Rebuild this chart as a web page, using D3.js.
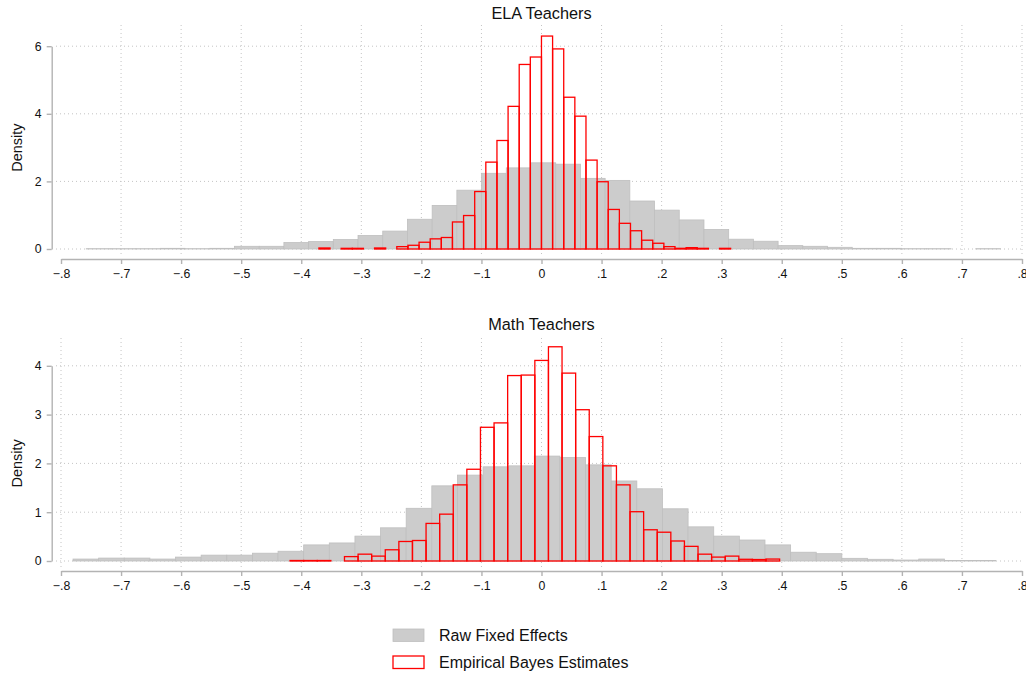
<!DOCTYPE html>
<html>
<head>
<meta charset="utf-8">
<script src="https://cdn.jsdelivr.net/npm/d3@7"></script>
<style>
  html, body { margin: 0; padding: 0; background: #fff; }
  svg { display: block; font-family: "Liberation Sans", Arial, Helvetica, sans-serif; }
</style>
</head>
<body>
<svg id="chart" width="1026" height="675"></svg>
<script>
// Histogram densities: teacher value-added, raw fixed effects vs. empirical Bayes estimates

// ELA teachers
const elaRawStart = -0.758, elaRawWidth = 0.04114;
const elaRaw = [0.01, 0.01, 0.01, 0.02, 0.01, 0.02, 0.08, 0.08, 0.19, 0.22,
                0.28, 0.40, 0.53, 0.88, 1.29, 1.74, 2.24, 2.40, 2.55, 2.51,
                2.09, 2.03, 1.42, 1.15, 0.86, 0.58, 0.29, 0.23, 0.10, 0.08,
                0.05, 0.02, 0.02, 0.01, 0.01, 0, 0.01];
const elaEBStart = -0.3706, elaEBWidth = 0.018527;
const elaEB = [0.03, 0, 0.02, 0.02, 0, 0.03, 0, 0.07, 0.11, 0.20,
               0.30, 0.34, 0.80, 0.99, 1.70, 2.57, 3.21, 4.22, 5.46, 5.68,
               6.30, 5.92, 4.49, 3.93, 2.63, 1.99, 1.17, 0.76, 0.54, 0.26,
               0.17, 0.07, 0.02, 0.04, 0.02, 0, 0.02];

// Math teachers
const mathRawStart = -0.780, mathRawWidth = 0.04267;
const mathRaw = [0.04, 0.06, 0.06, 0.04, 0.08, 0.12, 0.12, 0.16, 0.20, 0.33,
                 0.37, 0.51, 0.68, 1.08, 1.54, 1.76, 1.93, 1.95, 2.15, 2.12,
                 1.97, 1.64, 1.48, 1.07, 0.70, 0.51, 0.43, 0.33, 0.18, 0.15,
                 0.055, 0.035, 0.02, 0.04, 0.01, 0.01];
const mathEBStart = -0.4186, mathEBWidth = 0.02264;
const mathEB = [0.01, 0.01, 0.01, 0, 0.09, 0.14, 0.10, 0.23, 0.40, 0.42,
                0.77, 0.96, 1.56, 1.88, 2.74, 2.83, 3.80, 3.81, 4.11, 4.39,
                3.85, 3.10, 2.55, 1.95, 1.56, 1.01, 0.64, 0.59, 0.41, 0.30,
                0.14, 0.08, 0.10, 0.035, 0.03, 0.04];

const xTicks = [-0.8, -0.7, -0.6, -0.5, -0.4, -0.3, -0.2, -0.1, 0, 0.1, 0.2, 0.3, 0.4, 0.5, 0.6, 0.7, 0.8];
const elaYTicks = [0, 2, 4, 6];
const mathYTicks = [0, 1, 2, 3, 4];
const legendLabels = ["Raw Fixed Effects", "Empirical Bayes Estimates"];

const svg = d3.select("#chart");
const rawFill = "#cccccc", rawStroke = "#bfbfbf", ebStroke = "#ff0000";
const axisColor = "#b3b3b3", gridColor = "#c4c4c4";

const x = d3.scaleLinear().domain([-0.8, 0.8]).range([61, 1022]);

// Stata-style tick labels: drop the leading zero
const fmtX = d => d === 0 ? "0" : d3.format(".1f")(d).replace("0.", ".");

function toBins(start, width, vals) {
  return vals.map((v, i) => ({ x0: start + i * width, x1: start + (i + 1) * width, v }));
}

function panel(opts) {
  const { title, titleY, plotTop, yRange, yDomain, yTicks, axisY, raw, eb, vGridSkip } = opts;
  const y = d3.scaleLinear().domain(yDomain).range(yRange);
  const g = svg.append("g");

  // grid
  g.append("g").selectAll("line").data(xTicks.filter(t => t !== vGridSkip)).join("line")
    .attr("x1", d => x(d)).attr("x2", d => x(d))
    .attr("y1", plotTop).attr("y2", y(0) + 6)
    .attr("stroke", gridColor).attr("stroke-width", 1).attr("stroke-dasharray", "1,3");
  g.append("g").selectAll("line").data(yTicks).join("line")
    .attr("x1", 56).attr("x2", 1022)
    .attr("y1", d => y(d)).attr("y2", d => y(d))
    .attr("stroke", gridColor).attr("stroke-width", 1).attr("stroke-dasharray", "1,3");

  // raw fixed effects (filled)
  g.append("g").selectAll("rect").data(raw.filter(b => b.v > 0)).join("rect")
    .attr("x", d => x(d.x0)).attr("width", d => x(d.x1) - x(d.x0))
    .attr("y", d => y(d.v)).attr("height", d => y(0) - y(d.v))
    .attr("fill", rawFill).attr("stroke", rawStroke).attr("stroke-width", 0.8);

  // empirical Bayes estimates (outlined)
  g.append("g").selectAll("rect").data(eb.filter(b => b.v > 0)).join("rect")
    .attr("x", d => x(d.x0)).attr("width", d => x(d.x1) - x(d.x0))
    .attr("y", d => y(d.v)).attr("height", d => y(0) - y(d.v))
    .attr("fill", "none").attr("stroke", ebStroke).attr("stroke-width", 1.3);

  // x axis
  const xa = g.append("g").attr("transform", `translate(0,${axisY})`)
    .call(d3.axisBottom(x).tickValues(xTicks).tickFormat(fmtX).tickSize(5).tickSizeOuter(0).tickPadding(5));
  // y axis
  const ya = g.append("g").attr("transform", `translate(51.7,0)`)
    .call(d3.axisLeft(y).tickValues(yTicks).tickFormat(d3.format("d")).tickSize(5).tickSizeOuter(0).tickPadding(5));
  [xa, ya].forEach(a => {
    a.select(".domain").attr("stroke", axisColor).attr("stroke-width", 1.4);
    a.selectAll(".tick line").attr("stroke", axisColor).attr("stroke-width", 1.4);
    a.selectAll(".tick text").attr("fill", "#111").style("font-size", "12.3px");
  });

  // y title
  const midY = (yRange[0] + yRange[1]) / 2;
  g.append("text").attr("transform", `translate(22,${midY}) rotate(-90)`)
    .attr("text-anchor", "middle").style("font-size", "14.5px").attr("fill", "#111").text("Density");

  // panel title
  g.append("text").attr("x", x(0)).attr("y", titleY).attr("text-anchor", "middle")
    .style("font-size", "16.3px").attr("fill", "#111").text(title);
}

panel({
  title: "ELA Teachers", titleY: 19, plotTop: 25,
  yDomain: [0, 6], yRange: [249, 46.2], yTicks: elaYTicks, axisY: 259,
  raw: toBins(elaRawStart, elaRawWidth, elaRaw),
  eb: toBins(elaEBStart, elaEBWidth, elaEB),
  vGridSkip: -0.8
});

panel({
  title: "Math Teachers", titleY: 330, plotTop: 338,
  yDomain: [0, 4], yRange: [561, 365.8], yTicks: mathYTicks, axisY: 571,
  raw: toBins(mathRawStart, mathRawWidth, mathRaw),
  eb: toBins(mathEBStart, mathEBWidth, mathEB),
  vGridSkip: 0.8
});

// legend
const leg = svg.append("g");
const keys = [
  { label: legendLabels[0], fill: rawFill, stroke: rawStroke, sw: 0.8, y: 629 },
  { label: legendLabels[1], fill: "#fff", stroke: ebStroke, sw: 1.3, y: 656 }
];
keys.forEach(k => {
  leg.append("rect").attr("x", 393).attr("y", k.y).attr("width", 31).attr("height", 12.5)
    .attr("fill", k.fill).attr("stroke", k.stroke).attr("stroke-width", k.sw);
  leg.append("text").attr("x", 439).attr("y", k.y + 12)
    .style("font-size", "16px").attr("fill", "#111").text(k.label);
});
</script>
</body>
</html>
